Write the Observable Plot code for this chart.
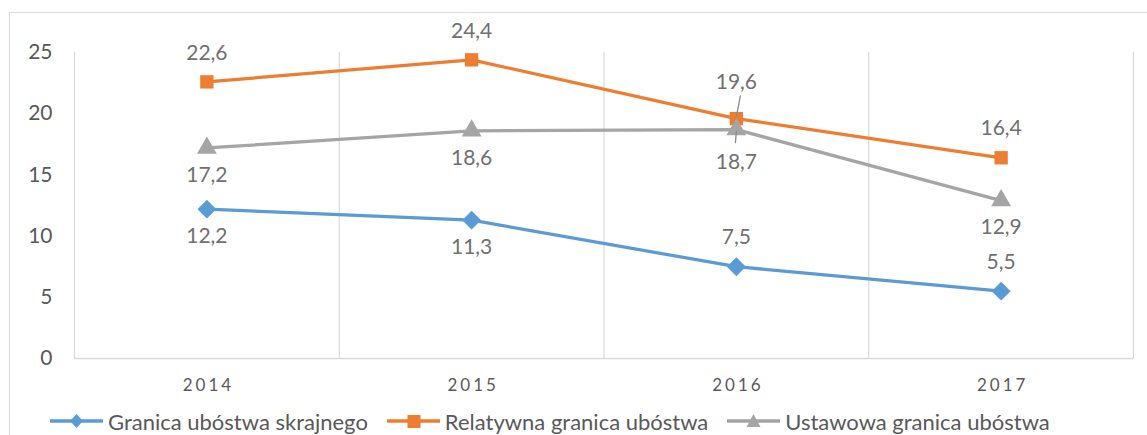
<!DOCTYPE html>
<html><head><meta charset="utf-8">
<script src="https://cdn.jsdelivr.net/npm/d3@7"></script>
<script src="https://cdn.jsdelivr.net/npm/@observablehq/plot@0.6"></script>
<style>
body{margin:0;background:#fff;font-family:Lato,"Open Sans",sans-serif;}
#wrap{position:relative;width:1147px;height:435px;overflow:hidden;}
#frame{position:absolute;left:9px;top:12px;width:1160px;height:440px;border:1px solid #d9d9d9;box-sizing:border-box;}
#chart{position:absolute;left:0;top:0;}
#legend{position:absolute;left:50px;top:408px;height:26px;display:flex;align-items:center;font-size:22px;color:#595959;white-space:nowrap;}
.item{display:flex;align-items:center;margin-right:19px;}
.item svg{margin-right:5px;}
#chart g[aria-label="x-axis tick label"] text{letter-spacing:3px;}
</style></head>
<body><div id="wrap"><div id="frame"></div><div id="chart"></div><div id="legend"></div></div>
<script>
const years = [2014, 2015, 2016, 2017];
const seriesNames = ["Granica ubóstwa skrajnego", "Relatywna granica ubóstwa", "Ustawowa granica ubóstwa"];
const skrajnego = [12.2, 11.3, 7.5, 5.5];
const relatywna = [22.6, 24.4, 19.6, 16.4];
const ustawowa = [17.2, 18.6, 18.7, 12.9];
const labelSide = [["below","below","above","above"],["above","above","above","above"],["below","below","below","below"]];
const labelLeader = [[false,false,false,false],[false,false,true,false],[false,false,true,false]];
const colors = ["#5B9BD5", "#ED7D31", "#A5A5A5"];
const symbols = ["diamond2", "square2", "triangle2"];
const yTicks = [0, 5, 10, 15, 20, 25];

const values = [skrajnego, relatywna, ustawowa];
const data = [];
values.forEach((vals, s) => vals.forEach((v, i) => data.push({
  series: seriesNames[s], year: years[i], value: v, side: labelSide[s][i], leader: labelLeader[s][i],
  label: String(v).replace(".", ",")
})));
const bounds = years.map(y => y - 0.5).concat([years[years.length-1] + 0.5]);

const FS = 21;
const marks = [
  Plot.ruleX(bounds, {x: d => d, y1: 0, y2: yTicks[yTicks.length-1], stroke: "#d9d9d9", strokeWidth: 1.2}),
  Plot.ruleY([0], {stroke: "#d9d9d9", strokeWidth: 1.5}),
  Plot.axisY({ticks: yTicks, tickSize: 0, tickPadding: 22, fontSize: FS, fill: "#595959", label: null}),
  Plot.axisX({ticks: years, tickSize: 0, tickPadding: 20, fontSize: 17, fill: "#595959", label: null, dx: 1.5,
    tickFormat: d => String(d)})
];
seriesNames.forEach((name, s) => {
  const sd = data.filter(d => d.series === name);
  marks.push(Plot.line(sd, {x: "year", y: "value", stroke: colors[s], strokeWidth: 3.3}));
  marks.push(Plot.dot(sd, {x: "year", y: "value", symbol: () => symbols[s], fill: colors[s], r: s === 2 ? 9.5 : 8.5, stroke: "none"}));
});
const leaderShape = {draw(ctx, l) { ctx.moveTo(0, 0); ctx.lineTo(0, -l); }};
const aboveLeader = data.filter(d => d.side === "above" && d.leader);
const belowLeader = data.filter(d => d.side === "below" && d.leader);
marks.push(Plot.vector(aboveLeader, {x: "year", y: "value", length: 21, rotate: 11, anchor: "start", dy: -2, shape: leaderShape, stroke: "#8c8c8c", strokeWidth: 1.3}));
marks.push(Plot.vector(belowLeader, {x: "year", y: "value", length: 11, rotate: 185, anchor: "start", dy: 2, shape: leaderShape, stroke: "#8c8c8c", strokeWidth: 1.3}));
const textOpts = {x: "year", y: "value", text: "label", fontSize: FS, fill: "#707070"};
marks.push(Plot.text(data.filter(d => d.side === "above" && !d.leader), {...textOpts, dy: -29}));
marks.push(Plot.text(data.filter(d => d.side === "above" && d.leader), {...textOpts, dy: -36}));
marks.push(Plot.text(data.filter(d => d.side === "below" && !d.leader), {...textOpts, dy: 27}));
marks.push(Plot.text(data.filter(d => d.side === "below" && d.leader), {...textOpts, dy: 33}));

const chart = Plot.plot({
  width: 1147, height: 400,
  marginLeft: 74, marginRight: 14, marginTop: 52, marginBottom: 42,
  style: {fontFamily: "Lato, 'Open Sans', sans-serif", background: "transparent", overflow: "visible"},
  x: {type: "linear", domain: [bounds[0], bounds[bounds.length-1]]},
  y: {domain: [0, 25]},
  symbol: {type: "identity"},
  marks
});
document.getElementById("chart").appendChild(chart);

const legend = document.getElementById("legend");
const shapes = [
  c => `<path d="M26.5,4 L33,11 L26.5,18 L20,11 Z" fill="${c}"/>`,
  c => `<rect x="20.5" y="5" width="13" height="13" fill="${c}"/>`,
  c => `<path d="M26.5,4 L33.5,17 L19.5,17 Z" fill="${c}"/>`
];
seriesNames.forEach((name, s) => {
  const el = document.createElement("div");
  el.className = "item";
  el.innerHTML = `<svg width="53" height="22"><line x1="0" x2="53" y1="11" y2="11" stroke="${colors[s]}" stroke-width="3.3"/>${shapes[s](colors[s])}</svg><span>${name}</span>`;
  legend.appendChild(el);
});
</script></body></html>
